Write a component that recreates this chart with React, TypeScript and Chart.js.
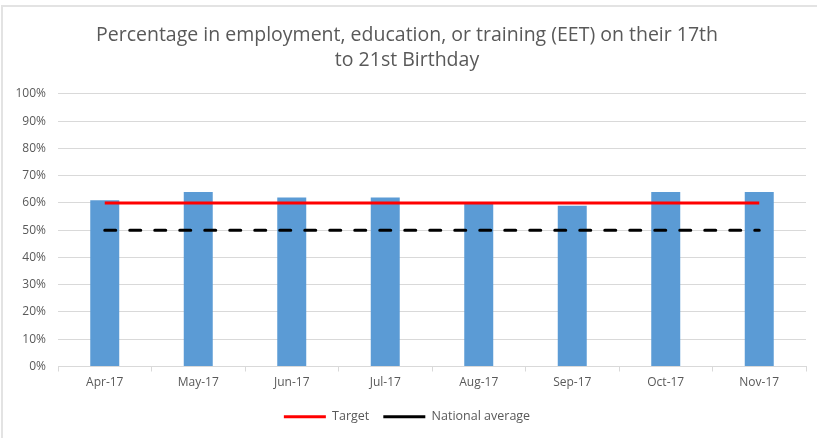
import React, { useEffect, useRef } from "react";
import { Chart, registerables } from "chart.js";

Chart.register(...registerables);

const categories = ["Apr-17", "May-17", "Jun-17", "Jul-17", "Aug-17", "Sep-17", "Oct-17", "Nov-17"];
const eetValues = [61, 64, 62, 62, 60, 59, 64, 64];
const targetValues = [60, 60, 60, 60, 60, 60, 60, 60];
const nationalValues = [50, 50, 50, 50, 50, 50, 50, 50];
const titleLines = ["Percentage in employment, education, or training (EET) on their 17th", "to 21st Birthday"];

const FONT = "'Open Sans', 'Noto Sans', sans-serif";
const TEXT = "#595959";
const GRID = "#d9d9d9";

export default function App() {
  const ref = useRef<HTMLCanvasElement | null>(null);

  useEffect(() => {
    document.body.style.margin = "0";
    const ctx = ref.current;
    if (!ctx) return;
    const chart = new Chart(ctx, {
      type: "bar",
      data: {
        labels: categories,
        datasets: [
          {
            type: "line",
            label: "Target",
            data: targetValues,
            borderColor: "#ff0000",
            backgroundColor: "#ff0000",
            borderWidth: 3,
            pointRadius: 0,
            pointStyle: "line",
            order: 0,
          },
          {
            type: "line",
            label: "National average",
            data: nationalValues,
            borderColor: "#000000",
            backgroundColor: "#000000",
            borderWidth: 3,
            borderDash: [11, 14],
            borderCapStyle: "round",
            pointRadius: 0,
            pointStyle: "line",
            order: 1,
          },
          {
            type: "bar",
            label: "EET",
            data: eetValues,
            backgroundColor: "#5b9bd5",
            categoryPercentage: 1,
            barPercentage: 0.31,
            order: 2,
          },
        ],
      },
      options: {
        animation: false,
        responsive: false,
        maintainAspectRatio: false,
        layout: { padding: { left: 8, right: 11, top: 0, bottom: 5 } },
        plugins: {
          title: {
            display: true,
            text: titleLines,
            color: TEXT,
            font: { family: FONT, size: 19.5, weight: "normal", lineHeight: 1.28 },
            padding: { top: 23, bottom: 21 },
          },
          legend: {
            display: true,
            position: "bottom",
            labels: {
              filter: (item: any) => item.text !== "EET",
              usePointStyle: true,
              pointStyleWidth: 42,
              boxHeight: 12,
              color: TEXT,
              font: { family: FONT, size: 12.5 },
              padding: 14,
            },
          },
          tooltip: { enabled: false },
        },
        scales: {
          x: {
            offset: true,
            grid: {
              offset: true,
              drawOnChartArea: false,
              drawTicks: true,
              tickLength: 5,
              color: GRID,
            },
            border: { display: true, color: GRID, width: 1 },
            ticks: { color: TEXT, font: { family: FONT, size: 12 }, padding: 4, maxRotation: 0 },
            afterFit: (s: any) => {
              s.height = 30;
            },
          },
          y: {
            min: 0,
            max: 100,
            ticks: {
              stepSize: 10,
              color: TEXT,
              font: { family: FONT, size: 12 },
              padding: 12,
              callback: (v: any) => v + "%",
            },
            grid: { color: GRID, drawTicks: false },
            border: { display: false },
            afterFit: (s: any) => {
              s.width = 50;
            },
          },
        },
      },
    });
    return () => chart.destroy();
  }, []);

  return (
    <div style={{ position: "relative", width: 817, height: 438, background: "#fff", overflow: "hidden" }}>
      <div
        style={{
          position: "absolute",
          left: 1,
          top: 5,
          width: 830,
          height: 450,
          borderTop: "2px solid #e3e3e3",
          borderLeft: "2px solid #e3e3e3",
          pointerEvents: "none",
        }}
      />
      <canvas ref={ref} width={817} height={438} style={{ position: "absolute", left: 0, top: 0 }} />
    </div>
  );
}
